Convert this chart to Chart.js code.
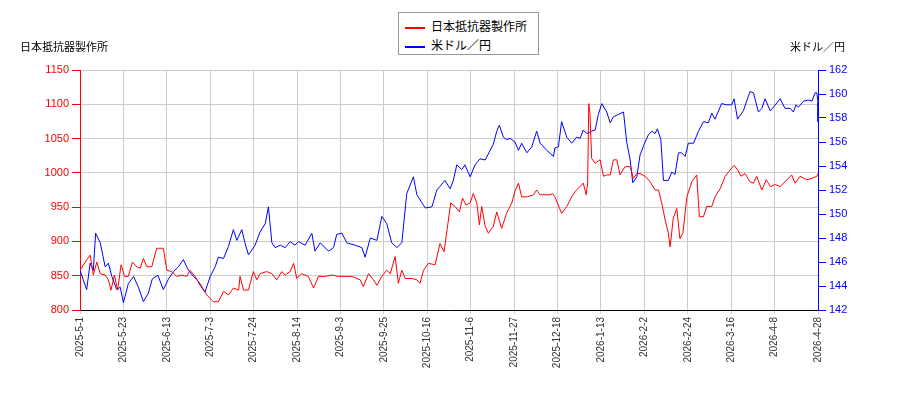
<!DOCTYPE html>
<html><head><meta charset="utf-8">
<script src="https://cdn.jsdelivr.net/npm/chart.js@4"></script>
<style>
body{margin:0;background:#fff;font-family:"Noto Sans CJK JP","DejaVu Sans",sans-serif}
#wrap{position:relative;width:900px;height:400px}
.t{position:absolute;font-size:11px;color:#000}
#legend{position:absolute;left:398px;top:12px;width:141px;height:43px;border:1px solid #999;background:#fff;font-size:12px;box-sizing:border-box;padding:3px 0 0 6px;line-height:19px}
#legend span.l{display:inline-block;width:20px;height:0;border-top:2px solid;vertical-align:middle;margin-right:6px}
</style></head><body>
<div id="wrap">
<canvas id="c" width="900" height="400"></canvas>
<div class="t" style="left:20px;top:38px">日本抵抗器製作所</div>
<div class="t" style="left:790px;top:38px">米ドル／円</div>
<div id="legend"><div><span class="l" style="border-color:red"></span>日本抵抗器製作所</div><div><span class="l" style="border-color:blue"></span>米ドル／円</div></div>
</div>
<script>
const tickLabels=["2025-5-1","2025-5-23","2025-6-13","2025-7-3","2025-7-24","2025-8-14","2025-9-3","2025-9-25","2025-10-16","2025-11-6","2025-11-27","2025-12-18","2026-1-13","2026-2-2","2026-2-24","2026-3-16","2026-4-8","2026-4-28"];
const stockIdx=[0,2.3,3.5,4.6,5.8,7,8.7,9.8,10.7,11.9,13,14.2,15.4,16.7,18.1,19.6,20.8,21.9,23.1,24.8,26.5,28.8,30,31.7,33.4,35.2,36.9,38,39.8,41.5,43.8,46.1,47.8,49.6,51.3,53,54.8,55.3,56.5,58.2,59.9,61.1,62.2,64.5,66.3,68,69.7,70.9,72.6,73.8,74.9,76.6,78.9,80.7,82.4,84.7,87,89.3,93.9,96.8,97.9,99.7,101.4,102.6,104.3,106,107.2,108.9,110,111.2,112.4,114.7,116.4,117.5,118.7,120.4,122.7,124.4,125.8,126.9,128.1,129.6,131.1,132.2,133.4,134.8,135.9,137.1,138,138.8,140,141.1,142.8,144,145.7,147.4,149.2,150.3,151.5,152.6,154.4,156.7,157.8,159,160.7,162.4,163.3,164.1,166.4,168.2,169.9,171.1,172.8,173.9,174.9,175.4,175.8,176.2,176.8,178,179.7,180.9,182,183.2,184.3,185.5,186.6,188.3,190.1,191.2,192.4,193.5,195.3,197,198.7,199.9,201,202.2,203.3,203.9,205,206.2,207.3,208.3,209.7,211.4,213.1,214,215.4,216.6,218.3,219.4,221.2,222.9,224.6,226,227.3,228.4,229.8,231.5,232.7,233.8,235.6,237.1,238.5,240.2,241.9,243.6,245.9,247.1,248.8,251.1,252.9,254.6,255];
const stockVal=[858,873,880,851,870,853,851,844,829,851,829,866,849,849,870,863,861,875,863,863,890,890,858,856,849,851,849,858,849,836,822,812,812,827,822,832,829,849,829,829,856,844,853,856,853,844,856,851,856,868,846,853,849,832,849,849,851,849,849,844,834,853,844,836,849,858,853,878,839,858,846,846,844,839,858,868,866,897,885,919,956,951,943,963,953,956,970,956,924,951,922,912,922,943,919,941,956,973,985,965,965,968,975,968,968,968,970,965,941,951,965,973,980,985,968,985,1101,1087,1021,1014,1019,995,997,997,1019,1019,997,1009,1009,992,999,999,995,987,975,975,956,931,912,892,934,948,904,912,965,987,997,936,936,951,951,965,977,995,1004,1011,1004,995,999,987,985,995,975,990,980,983,980,987,997,985,995,990,992,995,999];
const usdIdx=[0,2.3,3.5,4.6,5.4,7,8.7,9.8,11,12.7,13.9,15,16.7,18.5,20.2,21.9,23.6,25,26.9,28.8,30.6,32.3,34,35.7,37.5,39.2,40.9,43.2,45,46.7,47.8,49.6,51.3,53,54.2,55.9,57,58.2,60.5,62.2,64,65.1,66.3,67.4,69.2,70.9,72.6,74.3,75.5,77.8,80.1,81.2,83,85.9,87.6,88.7,90.5,92.2,95,97.4,98.5,100.3,102.6,104.3,106,107.7,109.5,111.2,112.9,115.2,116.4,119.3,121.6,123.3,124.4,126.1,127.9,129,130.2,131.9,133,134.8,136.5,138.2,140,141.7,142.8,144,144.9,146.3,147.4,148.6,150.3,151.5,152.6,154.4,156.1,157.8,159,161.3,163.6,164.1,165.3,166.4,168.2,169.9,171.6,172.8,173.9,175.1,176.8,178,179.1,180.3,182,183.2,184.3,186,187.8,188.9,190.1,191,192.4,193.5,194.9,196.4,197.6,198.7,199.5,200.7,201.6,203.3,204.5,205.6,206.8,207.9,209.1,210.2,212,213.7,215.4,217.1,218.3,219.4,221.7,223.5,225.2,226,227.2,229.2,231.5,232.7,234.4,235.6,236.7,238.5,239.6,241.9,243.6,245.4,246.5,247.4,248.2,250,251.7,252.9,254,254.6,255,255];
const usdVal=[145.3,143.7,145.9,145.3,148.4,147.6,145.6,145.9,144.8,143.7,143.9,142.6,144.2,144.8,143.9,142.7,143.4,144.6,144.9,143.7,144.6,145.2,145.6,146.2,145.3,144.8,144.4,143.5,144.8,145.6,146.4,146.3,147.3,148.7,147.8,148.7,147.6,146.6,147.4,148.5,149.2,150.6,147.6,147.2,147.4,147.2,147.7,147.4,147.7,147.4,148.4,146.9,147.6,146.9,147.2,148.3,148.4,147.6,147.4,147.2,146.4,148.0,147.8,149.8,149.2,147.6,147.2,147.6,151.7,153.1,151.6,150.5,150.6,152.0,152.3,152.8,152.1,152.8,154.1,153.7,154.1,153.1,154.1,154.6,154.5,155.3,155.8,156.9,157.4,156.4,156.2,156.3,156.0,155.3,155.9,155.1,155.6,156.9,155.9,155.3,154.8,155.5,155.6,157.7,156.4,155.9,156.4,156.3,157.0,156.7,156.9,157.0,158.3,159.2,158.5,157.6,158.1,158.3,158.5,156.0,154.5,152.6,153.1,154.9,155.8,156.6,156.9,156.7,157.1,156.2,152.8,152.8,153.5,153.3,155.1,155.1,154.8,155.9,155.9,156.9,157.7,157.6,158.4,157.9,159.2,159.1,159.1,159.6,157.9,158.6,160.2,160.1,158.5,158.8,159.6,158.6,158.9,159.6,158.8,158.8,158.5,159.1,158.9,159.4,159.5,159.4,160.1,160.1,159.3,157.7];
const pts=(xs,ys)=>xs.map((x,i)=>({x:x,y:ys[i]}));
new Chart(document.getElementById('c'),{
 type:'line',
 data:{datasets:[
  {label:'日本抵抗器製作所',data:pts(stockIdx,stockVal),borderColor:'red',borderWidth:1,pointRadius:0,yAxisID:'y',tension:0},
  {label:'米ドル／円',data:pts(usdIdx,usdVal),borderColor:'blue',borderWidth:1,pointRadius:0,yAxisID:'y1',tension:0}
 ]},
 options:{responsive:false,animation:false,
  layout:{padding:{top:70,left:0,right:0,bottom:0}},
  plugins:{legend:{display:false},tooltip:{enabled:false}},
  scales:{
   x:{type:'linear',min:0,max:255,
      ticks:{stepSize:15,autoSkip:false,minRotation:90,maxRotation:90,color:'#333',font:{size:10},
        callback:v=>tickLabels[Math.round(v/15)]},
      grid:{color:'#ccc',drawTicks:true,tickLength:4},border:{color:'#000'},
      afterFit:a=>{a.height=90;}},
   y:{position:'left',min:800,max:1150,ticks:{stepSize:50,color:'red',font:{size:11},callback:v=>String(v)},
      grid:{color:'#ccc',tickColor:'red'},border:{color:'red'},afterFit:a=>{a.width=80;}},
   y1:{position:'right',min:142,max:162,ticks:{stepSize:2,color:'blue',font:{size:11},callback:v=>String(v)},
      grid:{drawOnChartArea:false,tickColor:'blue'},border:{color:'blue'},afterFit:a=>{a.width=82;}}
  }}
});
</script></body></html>
